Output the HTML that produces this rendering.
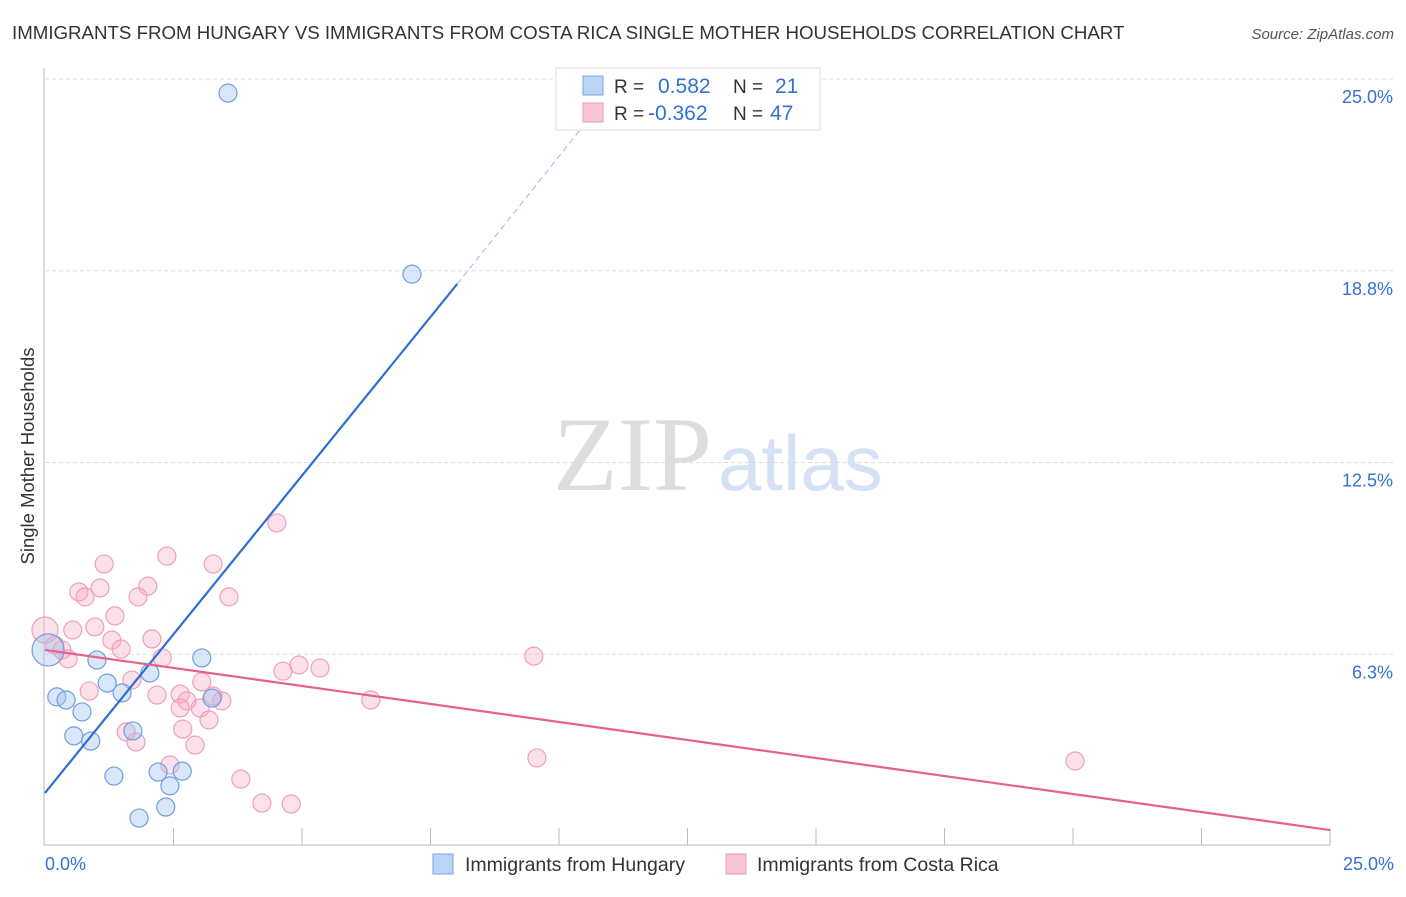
<!DOCTYPE html>
<html><head><meta charset="utf-8"><style>
body{margin:0;background:#fff;font-family:"Liberation Sans",sans-serif}
</style></head><body>
<svg width="1406" height="892" xmlns="http://www.w3.org/2000/svg" id="c" font-family="Liberation Sans, sans-serif">
<text x="12" y="39" font-size="18.7" fill="#333">IMMIGRANTS FROM HUNGARY VS IMMIGRANTS FROM COSTA RICA SINGLE MOTHER HOUSEHOLDS CORRELATION CHART</text>
<text x="1394" y="39" font-size="15" fill="#555" text-anchor="end" font-style="italic">Source: ZipAtlas.com</text>
<text x="553" y="490" font-size="106" fill="#ddd" font-family="Liberation Serif, serif">ZIP</text>
<text x="718" y="490" font-size="78" fill="#d4e2f4">atlas</text>
<text transform="translate(34,456) rotate(-90)" font-size="18.5" fill="#333" text-anchor="middle">Single Mother Households</text>
<g id="grid"></g><g id="marks"></g>
<g>
<rect x="556" y="68" width="264" height="62" fill="#fff" stroke="#ddd"/>
<rect x="583" y="76" width="20" height="19" fill="#bcd4f5" stroke="#7aa5e0"/>
<rect x="583" y="103" width="20" height="19" fill="#f9c6d5" stroke="#eb9ab2"/>
<text x="614" y="93" font-size="19" fill="#333">R =</text><text x="658" y="93" font-size="21" fill="#3571d0">0.582</text>
<text x="733" y="93" font-size="19" fill="#333">N =</text><text x="775" y="93" font-size="21" fill="#3571d0">21</text>
<text x="614" y="120" font-size="19" fill="#333">R =</text><text x="648" y="120" font-size="21" fill="#3571d0">-0.362</text>
<text x="733" y="120" font-size="19" fill="#333">N =</text><text x="770" y="120" font-size="21" fill="#3571d0">47</text>
</g>
<g>
<rect x="433" y="854" width="20" height="20" fill="#bcd4f5" stroke="#7aa5e0"/>
<text x="465" y="871" font-size="19.5" fill="#333">Immigrants from Hungary</text>
<rect x="726" y="854" width="20" height="20" fill="#f9c6d5" stroke="#eb9ab2"/>
<text x="757" y="871" font-size="19.5" fill="#333">Immigrants from Costa Rica</text>
</g>
</svg>
<script>
const yTicks=[6.25,12.5,18.75,25];
const yTickLabels=["6.3%","12.5%","18.8%","25.0%"];
const xTickCount=10;
const hungaryX=[3.56,7.14,3.05,2.04,1.01,1.21,1.50,0.23,0.41,0.72,3.25,1.71,0.56,0.89,1.34,2.20,2.67,2.43,2.35,1.83,0.06];
const hungaryY=[24.54,18.64,6.13,5.64,6.06,5.31,4.99,4.86,4.76,4.37,4.82,3.75,3.59,3.42,2.28,2.41,2.44,1.96,1.27,0.91,6.39];
const costaX=[4.51,2.37,3.27,1.15,0.66,0.78,1.07,2.00,1.81,3.58,1.36,0.97,0.54,2.08,1.30,1.48,2.28,0.45,0.0,0.19,0.33,1.69,2.63,0.86,2.18,3.27,2.76,3.05,2.63,3.02,3.44,3.19,2.68,1.58,1.77,2.92,2.43,3.81,4.22,4.79,4.63,4.94,5.35,6.34,9.51,9.57,20.04];
const costaY=[10.53,9.45,9.19,9.19,8.28,8.12,8.41,8.47,8.12,8.12,7.50,7.14,7.04,6.75,6.71,6.42,6.13,6.10,7.04,6.55,6.39,5.41,4.95,5.05,4.92,4.89,4.73,5.35,4.50,4.50,4.73,4.11,3.81,3.72,3.39,3.29,2.64,2.18,1.40,1.37,5.70,5.90,5.80,4.76,6.19,2.87,2.77];
const hungaryTrend=[[0,1.73],[8.02,18.32],[10.41,23.34]];
const costaTrend=[[0,6.39],[25,0.52]];
const X=v=>45+v/25*1285, Y=v=>846-v/25*767;
const NS="http://www.w3.org/2000/svg";
function mk(p,t,a){const e=document.createElementNS(NS,t);for(const k in a)e.setAttribute(k,a[k]);p.appendChild(e);return e;}
const g=document.getElementById('grid'),m=document.getElementById('marks');
yTicks.forEach((t,i)=>{
 const l=mk(g,'line',{x1:45,x2:1395,y1:Y(t),y2:Y(t),stroke:'#ddd','stroke-dasharray':'4,3'});
 
 
 const tx=mk(g,'text',{x:1393,y:Y(t)+24,'font-size':18,fill:'#3571d0','text-anchor':'end'});tx.textContent=yTickLabels[i];
 
 
});
const ax=mk(g,'path',{d:'M44,68V845H1330',stroke:'#bbb',fill:'none'});


for(let i=1;i<=xTickCount;i++){const t=mk(g,'line',{x1:X(i*2.5),x2:X(i*2.5),y1:828,y2:845,stroke:'#bbb'});
 
 }
const x0=mk(g,'text',{x:45,y:870,'font-size':18,fill:'#3571d0'});x0.textContent='0.0%';


const x1=mk(g,'text',{x:1394,y:870,'font-size':18,fill:'#3571d0','text-anchor':'end'});x1.textContent='25.0%';


costaX.forEach((v,i)=>{const c=mk(m,'circle',{cx:X(v),cy:Y(costaY[i]),r:i==18?13:9,fill:'rgba(246,170,195,0.35)',stroke:'#eea0b9','stroke-width':1.2});
 
 });
hungaryX.forEach((v,i)=>{const c=mk(m,'circle',{cx:X(v),cy:Y(hungaryY[i]),r:i==20?16:9,fill:'rgba(160,195,240,0.4)',stroke:'#6f9edf','stroke-width':1.2});
 
 });
const bl=mk(m,'line',{x1:X(hungaryTrend[0][0]),y1:Y(hungaryTrend[0][1]),x2:X(hungaryTrend[1][0]),y2:Y(hungaryTrend[1][1]),stroke:'#2a6fd4','stroke-width':2.2});


const bd=mk(m,'line',{x1:X(hungaryTrend[1][0]),y1:Y(hungaryTrend[1][1]),x2:X(hungaryTrend[2][0]),y2:Y(hungaryTrend[2][1]),stroke:'#9bb8e2','stroke-width':1,'stroke-dasharray':'6,4'});


const pl=mk(m,'line',{x1:X(costaTrend[0][0]),y1:Y(costaTrend[0][1]),x2:X(costaTrend[1][0]),y2:Y(costaTrend[1][1]),stroke:'#e5608e','stroke-width':2.2});


</script>
</body></html>
